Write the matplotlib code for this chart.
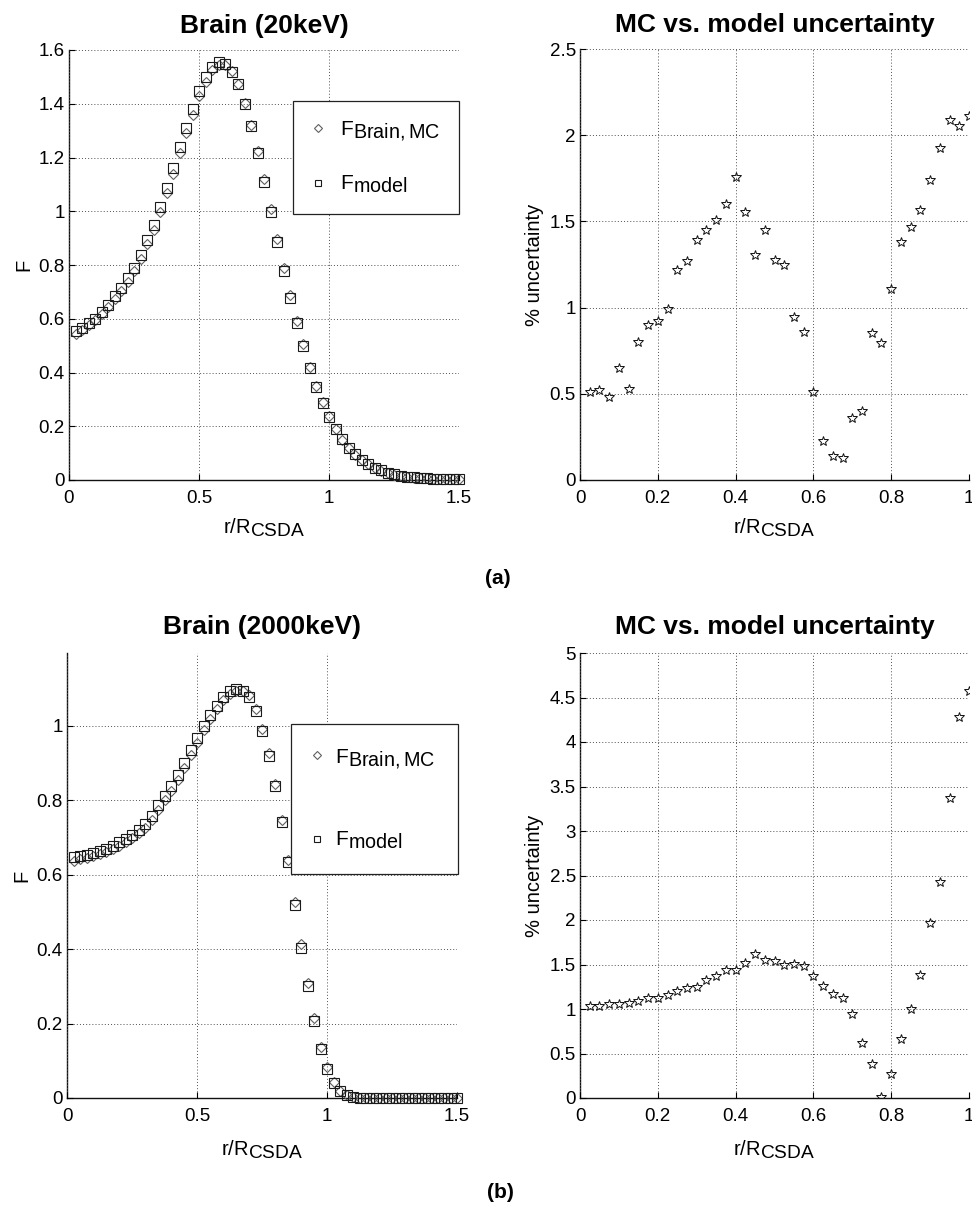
import numpy as np
import matplotlib
matplotlib.use("Agg")
import matplotlib.pyplot as plt
import matplotlib._mathtext as _mt
from matplotlib.ticker import FuncFormatter

_mt.SHRINK_FACTOR = 0.95

plt.rcParams['font.family'] = ['Liberation Sans', 'DejaVu Sans']
plt.rcParams['mathtext.fontset'] = 'custom'
plt.rcParams['mathtext.rm'] = 'Liberation Sans'
plt.rcParams['mathtext.it'] = 'Liberation Sans'
plt.rcParams['mathtext.bf'] = 'Liberation Sans:bold'
plt.rcParams['mathtext.default'] = 'regular'

# ---------------- data ----------------
r_step = 0.025
r_F = r_step * np.arange(1, 61)      # r/R_CSDA for F panels (0.025 .. 1.5)
r_U = r_step * np.arange(1, 41)      # r/R_CSDA for uncertainty panels (0.025 .. 1.0)

F20_model = [0.553, 0.565, 0.584, 0.600, 0.624, 0.652, 0.683, 0.714, 0.750, 0.790,
             0.838, 0.893, 0.949, 1.015, 1.087, 1.160, 1.238, 1.310, 1.380, 1.448,
             1.498, 1.538, 1.554, 1.548, 1.520, 1.472, 1.400, 1.316, 1.216, 1.108,
             0.998, 0.884, 0.776, 0.677, 0.584, 0.497, 0.415, 0.345, 0.286, 0.236,
             0.190, 0.152, 0.120, 0.097, 0.075, 0.060, 0.046, 0.037, 0.027, 0.021,
             0.016, 0.012, 0.010, 0.008, 0.006, 0.005, 0.004, 0.003, 0.003, 0.002]
F20_MC = [0.545, 0.558, 0.577, 0.594, 0.617, 0.644, 0.674, 0.704, 0.738, 0.777,
          0.824, 0.878, 0.932, 0.998, 1.068, 1.140, 1.217, 1.290, 1.360, 1.428,
          1.482, 1.525, 1.545, 1.546, 1.522, 1.474, 1.402, 1.322, 1.225, 1.120,
          1.010, 0.895, 0.790, 0.688, 0.592, 0.505, 0.422, 0.350, 0.290, 0.238,
          0.190, 0.150, 0.118, 0.094, 0.073, 0.058, 0.045, 0.035, 0.026, 0.020,
          0.015, 0.011, 0.009, 0.007, 0.006, 0.005, 0.004, 0.003, 0.003, 0.002]
U20 = [0.509, 0.524, 0.480, 0.648, 0.526, 0.803, 0.901, 0.925, 0.990, 1.220,
       1.268, 1.394, 1.452, 1.510, 1.600, 1.757, 1.552, 1.303, 1.448, 1.278,
       1.245, 0.944, 0.861, 0.509, 0.228, 0.139, 0.130, 0.362, 0.400, 0.851,
       0.797, 1.108, 1.378, 1.465, 1.564, 1.738, 1.926, 2.090, 2.055, 2.109]

F2000_model = [0.647, 0.650, 0.654, 0.659, 0.663, 0.669, 0.678, 0.687, 0.696, 0.707,
               0.721, 0.737, 0.757, 0.787, 0.813, 0.838, 0.868, 0.901, 0.935, 0.968,
               1.000, 1.030, 1.054, 1.077, 1.093, 1.099, 1.095, 1.077, 1.039, 0.987,
               0.920, 0.839, 0.741, 0.633, 0.518, 0.404, 0.302, 0.208, 0.132, 0.079,
               0.041, 0.018, 0.007, 0.003, 0.001, 0.0, 0.0, 0.0, 0.0, 0.0,
               0.0, 0.0, 0.0, 0.0, 0.0, 0.0, 0.0, 0.0, 0.0, 0.0]
F2000_MC = [0.638, 0.642, 0.646, 0.650, 0.655, 0.661, 0.669, 0.678, 0.687, 0.698,
            0.711, 0.727, 0.746, 0.774, 0.800, 0.826, 0.855, 0.887, 0.921, 0.954,
            0.988, 1.019, 1.045, 1.069, 1.086, 1.094, 1.094, 1.082, 1.046, 0.993,
            0.926, 0.845, 0.748, 0.641, 0.528, 0.414, 0.310, 0.214, 0.137, 0.082,
            0.043, 0.019, 0.008, 0.003, 0.001, 0.0, 0.0, 0.0, 0.0, 0.0,
            0.0, 0.0, 0.0, 0.0, 0.0, 0.0, 0.0, 0.0, 0.0, 0.0]
U2000 = [1.03, 1.03, 1.06, 1.06, 1.07, 1.09, 1.127, 1.127, 1.153, 1.199,
         1.240, 1.247, 1.322, 1.370, 1.442, 1.442, 1.517, 1.614, 1.554, 1.536,
         1.490, 1.502, 1.479, 1.367, 1.255, 1.165, 1.127, 0.944, 0.618, 0.382,
         0.011, 0.266, 0.667, 0.996, 1.378, 1.970, 2.430, 3.370, 4.280, 4.570]

titles_F = ["Brain (20keV)", "Brain (2000keV)"]
title_U = "MC vs. model uncertainty"
label_MC = r"F$_{Brain,MC}$"
label_model = r"F$_{model}$"
xlabel = r"r/R$_{CSDA}$"

# ---------------- figure ----------------
W, H = 972, 1209
fig = plt.figure(figsize=(W / 100, H / 100), dpi=100)

def frac(l, t, r, b):
    return [l / W, 1 - b / H, (r - l) / W, (b - t) / H]

fmt = FuncFormatter(lambda v, p: "%g" % round(v, 6))
TICK_FS = 13.5
LABEL_FS = 14.5
TITLE_FS = 19

def style(ax):
    ax.grid(True, linestyle=(0, (1, 2.2)), color='#505050', linewidth=0.7)
    ax.set_axisbelow(False)
    for s in ['top', 'right']:
        ax.spines[s].set_visible(False)
    for s in ['left', 'bottom']:
        ax.spines[s].set_linewidth(1.0)
        ax.spines[s].set_color('#111111')
    ax.tick_params(direction='in', length=4, width=0.8, labelsize=TICK_FS)
    ax.tick_params(axis='x', pad=7.0)
    ax.tick_params(axis='y', pad=3.0)
    ax.xaxis.set_major_formatter(fmt)
    ax.yaxis.set_major_formatter(fmt)

def F_panel(ax, yF_MC, yF_model, title, ylim, yticks, leg_anchor, bpad, lspace, hlen, htp, tpad, xlpad):
    ax.plot(r_F, yF_MC, linestyle='none', marker='D', markersize=5.3,
            markerfacecolor='none', markeredgecolor='#606060', markeredgewidth=0.8,
            label=label_MC, clip_on=False, zorder=3)
    ax.plot(r_F, yF_model, linestyle='none', marker='s', markersize=6.8,
            markerfacecolor='none', markeredgecolor='#1a1a1a', markeredgewidth=0.8,
            label=label_model, clip_on=False, zorder=3)
    ax.set_xlim(0, 1.5)
    ax.set_ylim(*ylim)
    ax.set_xticks([0, 0.5, 1, 1.5])
    ax.set_yticks(yticks)
    style(ax)
    ax.set_title(title, fontsize=TITLE_FS, fontweight='bold', pad=tpad)
    ax.set_ylabel("F", fontsize=LABEL_FS, labelpad=4)
    ax.set_xlabel(xlabel, fontsize=LABEL_FS, labelpad=xlpad)
    leg = ax.legend(loc='upper right', bbox_to_anchor=leg_anchor,
                    fontsize=15, frameon=True, fancybox=False, markerscale=0.7,
                    borderpad=bpad, labelspacing=lspace, handlelength=hlen,
                    handletextpad=htp, borderaxespad=0)
    leg.get_frame().set_edgecolor('#222222')
    leg.get_frame().set_linewidth(0.9)
    leg.get_frame().set_alpha(1)

def U_panel(ax, yU, ylim, yticks, tpad, xlpad):
    ax.plot(r_U, yU, linestyle='none', marker='*', markersize=7.5,
            markerfacecolor='none', markeredgecolor='#111111', markeredgewidth=0.7,
            zorder=3)
    ax.set_xlim(0, 1)
    ax.set_ylim(*ylim)
    ax.set_xticks([0, 0.2, 0.4, 0.6, 0.8, 1])
    ax.set_yticks(yticks)
    style(ax)
    ax.set_title(title_U, fontsize=TITLE_FS, fontweight='bold', pad=tpad)
    ax.set_ylabel("% uncertainty", fontsize=LABEL_FS, labelpad=4)
    ax.set_xlabel(xlabel, fontsize=LABEL_FS, labelpad=xlpad)

axA1 = fig.add_axes(frac(69, 50, 459, 480))
F_panel(axA1, F20_MC, F20_model, titles_F[0], (0, 1.6),
        [0, 0.2, 0.4, 0.6, 0.8, 1, 1.2, 1.4, 1.6],
        (1.0, 0.881), 0.9, 1.47, 0.6, 0.76, 12.5, 7)

axA2 = fig.add_axes(frac(580, 49, 969, 480))
U_panel(axA2, U20, (0, 2.5), [0, 0.5, 1, 1.5, 2, 2.5], 12.5, 7)

axB1 = fig.add_axes(frac(67, 653, 457, 1098))
F_panel(axB1, F2000_MC, F2000_model, titles_F[1], (0, 1.196),
        [0, 0.2, 0.4, 0.6, 0.8, 1],
        (1.003, 0.840), 1.1, 2.85, 0.3, 0.72, 14, 10)

axB2 = fig.add_axes(frac(580, 653, 969, 1098))
U_panel(axB2, U2000, (0, 5), [0, 0.5, 1, 1.5, 2, 2.5, 3, 3.5, 4, 4.5, 5], 14, 10)

fig.text(498 / W, 1 - 578 / H, "(a)", ha='center', va='center',
         fontsize=15, fontweight='bold')
fig.text(500 / W, 1 - 1192 / H, "(b)", ha='center', va='center',
         fontsize=15, fontweight='bold')

fig.savefig("out.png", dpi=100, facecolor='white')
